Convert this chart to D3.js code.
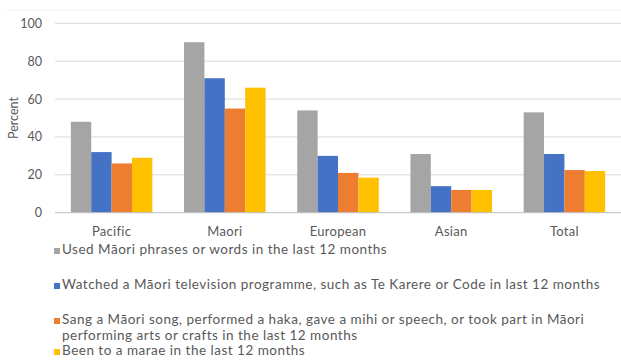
<!DOCTYPE html>
<html>
<head>
<meta charset="utf-8">
<script src="https://cdn.jsdelivr.net/npm/d3@7"></script>
<style>
  html, body { margin: 0; padding: 0; background: #fff; }
  svg { display: block; }
  text { font-family: Lato, "Open Sans", sans-serif; fill: #595959; }
</style>
</head>
<body>
<svg id="chart" width="621" height="363"></svg>
<script>
// Ethnic groups along the x axis
const categories = ["Pacific", "Maori", "European", "Asian", "Total"];

// Percent of each group taking part in each activity
const usedPhrases = [48, 90, 54, 31, 53];
const watchedTv   = [32, 71, 30, 14, 31];
const sangPerformed = [26, 55, 21, 12, 22.5];
const beenToMarae = [29, 66, 18.5, 12, 22];

const yTicks = [0, 20, 40, 60, 80, 100];

const seriesNames = [
  ["Used Māori phrases or words in the last 12 months"],
  ["Watched a Māori television programme, such as Te Karere or Code in last 12 months"],
  ["Sang a Māori song, performed a haka, gave a mihi or speech, or took part in Māori",
   "performing arts or crafts in the last 12 months"],
  ["Been to a marae in the last 12 months"]
];
const seriesValues = [usedPhrases, watchedTv, sangPerformed, beenToMarae];
const colors = ["#a5a5a5", "#4472c4", "#ed7d31", "#ffc000"];

const svg = d3.select("#chart");
const plot = { left: 55, right: 621, top: 23.3, bottom: 212.7 };

const x0 = d3.scaleBand()
  .domain(categories)
  .range([plot.left, plot.right])
  .paddingInner(0.28)
  .paddingOuter(0.14);

const x1 = d3.scaleBand()
  .domain(d3.range(seriesValues.length))
  .range([0, x0.bandwidth()]);

const y = d3.scaleLinear().domain([0, 100]).range([plot.bottom, plot.top]);

// faint frame line along the top of the chart area
svg.append("line")
  .attr("x1", 6).attr("x2", 621)
  .attr("y1", 10).attr("y2", 10)
  .attr("stroke", "#f0f0f0").attr("stroke-width", 1);

// horizontal gridlines
svg.append("g")
  .selectAll("line")
  .data(yTicks.filter(d => d > 0))
  .join("line")
  .attr("x1", plot.left).attr("x2", plot.right)
  .attr("y1", d => y(d)).attr("y2", d => y(d))
  .attr("stroke", "#d9d9d9").attr("stroke-width", 1);

// y axis tick labels
const yAxis = d3.axisLeft(y).tickValues(yTicks).tickSize(0).tickPadding(13);
const yG = svg.append("g")
  .attr("transform", `translate(${plot.left},0)`)
  .call(yAxis);
yG.select(".domain").remove();
yG.selectAll("text")
  .style("font-size", "12.5px")
  .style("fill", "#595959")
  .style("font-family", "Lato, 'Open Sans', sans-serif");

// y axis title
svg.append("text")
  .attr("transform", `translate(15,${(plot.top + plot.bottom) / 2}) rotate(-90)`)
  .attr("text-anchor", "middle")
  .attr("dominant-baseline", "middle")
  .style("font-size", "12.5px")
  .text("Percent");

// bars
const groups = svg.append("g")
  .selectAll("g")
  .data(categories)
  .join("g")
  .attr("transform", d => `translate(${x0(d)},0)`);

groups.selectAll("rect")
  .data((c, i) => seriesValues.map((vals, s) => ({ s, v: vals[i] })))
  .join("rect")
  .attr("x", d => x1(d.s))
  .attr("width", x1.bandwidth())
  .attr("y", d => y(d.v))
  .attr("height", d => y(0) - y(d.v))
  .attr("fill", d => colors[d.s]);

// baseline
svg.append("line")
  .attr("x1", plot.left).attr("x2", plot.right)
  .attr("y1", y(0)).attr("y2", y(0))
  .attr("stroke", "#bfbfbf").attr("stroke-width", 1);

// category labels
const xAxis = d3.axisBottom(x0).tickSize(0).tickPadding(14);
const xG = svg.append("g")
  .attr("transform", `translate(0,${plot.bottom})`)
  .call(xAxis);
xG.select(".domain").remove();
xG.selectAll("text")
  .style("font-size", "13px")
  .style("letter-spacing", "0.3px")
  .style("fill", "#595959")
  .style("font-family", "Lato, 'Open Sans', sans-serif");

// legend, one entry per activity
const legendRows = [251, 286, 321, 352];
const legend = svg.append("g");
seriesNames.forEach((lines, s) => {
  const yy = legendRows[s];
  legend.append("rect")
    .attr("x", 54).attr("y", yy - 3)
    .attr("width", 6).attr("height", 6)
    .attr("fill", colors[s]);
  lines.forEach((t, k) => {
    legend.append("text")
      .attr("x", 62)
      .attr("y", yy + k * 16)
      .attr("dominant-baseline", "middle")
      .style("font-size", "13.5px")
      .style("letter-spacing", "0.5px")
      .text(t);
  });
});
</script>
</body>
</html>
